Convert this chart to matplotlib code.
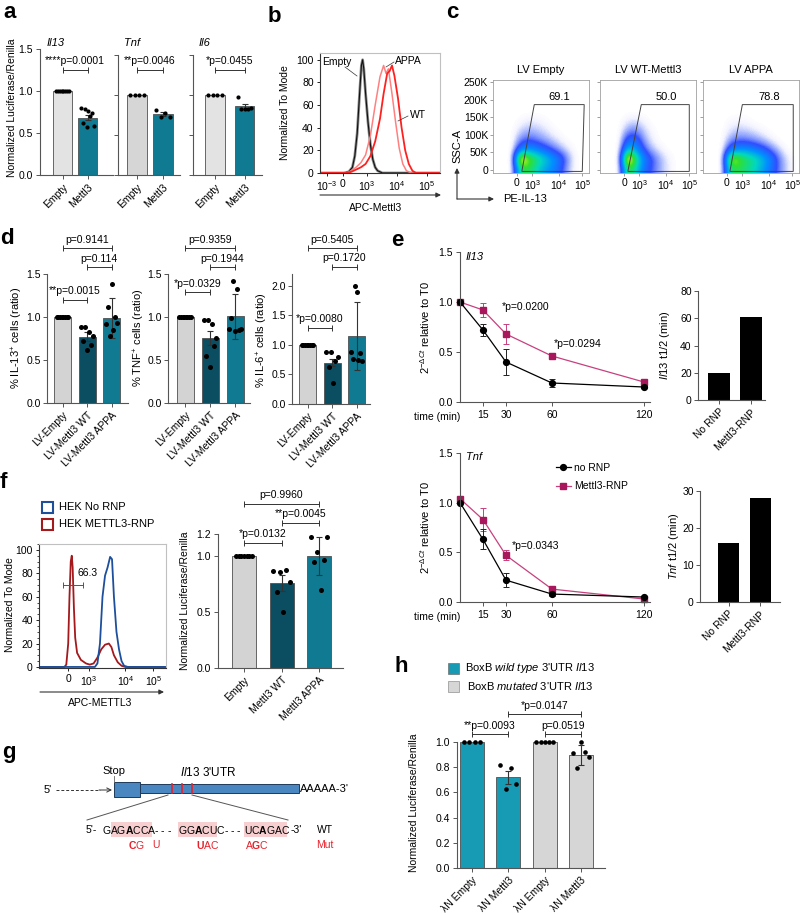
import numpy as np
import matplotlib
matplotlib.use("Agg")
import matplotlib.pyplot as plt
from matplotlib.patches import Rectangle, Polygon
from matplotlib.ticker import FormatStrFormatter, MultipleLocator
from matplotlib.colors import LinearSegmentedColormap

plt.rcParams["font.family"] = ["Liberation Sans", "DejaVu Sans"]
plt.rcParams["font.size"] = 7.5
plt.rcParams["mathtext.fontset"] = "custom"
plt.rcParams["mathtext.rm"] = "Liberation Sans"
plt.rcParams["mathtext.it"] = "Liberation Sans:italic"
plt.rcParams["mathtext.bf"] = "Liberation Sans:bold"
plt.rcParams["mathtext.sf"] = "Liberation Sans"
plt.rcParams["axes.linewidth"] = 0.8

# ---------------- data ----------------
# a: luciferase, Empty vs Mettl3
a_genes = ["Il13", "Tnf", "Il6"]
a_labels = ["Empty", "Mettl3"]
a_means = [[1.0, 0.68], [1.0, 0.76], [1.0, 0.86]]
a_err = [[0, 0.03], [0, 0.025], [0, 0.03]]
a_pts = [
    [[1.0] * 8, [0.80, 0.62, 0.78, 0.57, 0.76, 0.70, 0.74, 0.58]],
    [[1.0] * 4, [0.81, 0.73, 0.78, 0.72]],
    [[1.0] * 4, [0.97, 0.83, 0.82, 0.82, 0.84]],
]
a_pvals = ["****p=0.0001", "**p=0.0046", "*p=0.0455"]

# b: APC-Mettl3 histograms (display scale 0-1, % of mode)
b_tick_pos = [0.06, 0.19, 0.39, 0.64, 0.89]
b_tick_lab = ["$10^{-3}$", "0", "$10^{3}$", "$10^{4}$", "$10^{5}$"]
b_empty_x = [0.0, 0.20, 0.24, 0.27, 0.29, 0.31, 0.33, 0.345, 0.355, 0.365, 0.38, 0.40, 0.42, 0.44, 0.46, 0.48, 0.52, 1.0]
b_empty_y = [0, 0, 1, 5, 15, 35, 70, 95, 100, 92, 70, 45, 25, 12, 5, 2, 0, 0]
b_appa_x = [0.0, 0.22, 0.26, 0.30, 0.34, 0.38, 0.42, 0.46, 0.50, 0.53, 0.55, 0.57, 0.60, 0.63, 0.66, 0.69, 0.72, 0.76, 1.0]
b_appa_y = [0, 0, 2, 5, 9, 16, 33, 60, 85, 95, 88, 92, 70, 45, 22, 8, 2, 0, 0]
b_wt_x = [0.0, 0.22, 0.26, 0.30, 0.34, 0.38, 0.42, 0.46, 0.50, 0.53, 0.56, 0.58, 0.60, 0.62, 0.65, 0.68, 0.71, 0.74, 0.77, 0.80, 1.0]
b_wt_y = [0, 0, 1, 3, 5, 8, 15, 28, 48, 70, 88, 90, 95, 86, 66, 40, 20, 8, 2, 0, 0]

# c: PE-IL-13 vs SSC-A density (rows bottom->top, 12 columns)
c_titles = ["LV Empty", "LV WT-Mettl3", "LV APPA"]
c_pct = ["69.1", "50.0", "78.8"]
c_density = [
    [[0, 0, 0, 5, 5, 4, 3, 2.5, 1.5, 0.4, 0, 0],
     [0, 0, 0, 8.5, 6, 5, 4, 3, 2, 0.6, 0, 0],
     [0, 0, 0, 2.5, 3, 2.5, 1.8, 1.2, 0.6, 0.2, 0, 0],
     [0, 0, 0, 1.0, 1.3, 1.0, 0.7, 0.4, 0.15, 0, 0, 0],
     [0, 0, 0, 0.4, 0.6, 0.5, 0.3, 0.1, 0, 0, 0, 0],
     [0, 0, 0, 0.1, 0.25, 0.2, 0.1, 0, 0, 0, 0, 0],
     [0] * 12, [0] * 12, [0] * 12, [0] * 12],
    [[0, 0, 0, 5.5, 4, 2, 1.2, 0.6, 0.2, 0, 0, 0],
     [0, 0, 0, 9, 5, 2.5, 1.4, 0.6, 0.2, 0, 0, 0],
     [0, 0, 0, 4, 3, 1.3, 0.5, 0.2, 0, 0, 0, 0],
     [0, 0, 0, 2.0, 2.0, 0.7, 0.2, 0, 0, 0, 0, 0],
     [0, 0, 0, 0.8, 1.0, 0.4, 0.1, 0, 0, 0, 0, 0],
     [0, 0, 0, 0.25, 0.35, 0.15, 0, 0, 0, 0, 0, 0],
     [0] * 12, [0] * 12, [0] * 12, [0] * 12],
    [[0, 0, 0, 5, 5, 4.5, 4, 3, 2, 1, 0.3, 0],
     [0, 0, 0, 7, 6, 5, 4.5, 3.5, 2.5, 1, 0.3, 0],
     [0, 0, 0, 2.2, 2.8, 2.8, 2.3, 1.8, 1, 0.4, 0, 0],
     [0, 0, 0, 0.8, 1.1, 1.0, 0.8, 0.5, 0.2, 0, 0, 0],
     [0, 0, 0, 0.3, 0.45, 0.4, 0.25, 0.1, 0, 0, 0, 0],
     [0, 0, 0, 0.1, 0.15, 0.1, 0, 0, 0, 0, 0, 0],
     [0] * 12, [0] * 12, [0] * 12, [0] * 12],
]
c_gates = [
    [(0.30, -4), (0.43, 186), (0.95, 186), (0.93, -4)],
    [(0.29, -4), (0.43, 186), (0.93, 186), (0.93, -4)],
    [(0.28, -4), (0.41, 186), (0.94, 186), (0.94, -4)],
]
c_tick_pos = [0.25, 0.41, 0.69, 0.93]
c_tick_lab = ["0", "$10^{3}$", "$10^{4}$", "$10^{5}$"]
c_yticks = [0, 50, 100, 150, 200, 250]
c_ylab = ["0", "50K", "100K", "150K", "200K", "250K"]

# d: % cytokine+ cells
d_labels = ["LV-Empty", "LV-Mettl3 WT", "LV-Mettl3 APPA"]
d_ylabels = ["% IL-13$^{+}$ cells (ratio)", "% TNF$^{+}$ cells (ratio)", "% IL-6$^{+}$ cells (ratio)"]
d_means = [[1.0, 0.77, 0.99], [1.0, 0.76, 1.01], [1.0, 0.70, 1.15]]
d_err = [[0, 0.05, 0.23], [0, 0.08, 0.26], [0, 0.06, 0.58]]
d_pts = [
    [[1.0] * 8, [0.88, 0.72, 0.88, 0.62, 0.82, 0.68, 0.78], [0.92, 1.12, 0.78, 1.38, 0.85, 1.0, 0.93]],
    [[1.0] * 8, [0.96, 0.55, 0.97, 0.42, 0.92, 0.66, 0.76], [0.86, 0.99, 1.42, 0.84, 1.33, 0.85, 0.86]],
    [[1.0] * 8, [0.88, 0.62, 0.88, 0.35, 0.73, 0.80], [0.88, 0.76, 2.0, 1.9, 0.74, 0.86, 0.72]],
]
d_pvals = [["p=0.9141", "p=0.114", "**p=0.0015"],
           ["p=0.9359", "p=0.1944", "*p=0.0329"],
           ["p=0.5405", "p=0.1720", "*p=0.0080"]]

# e: mRNA decay
e_time = [0, 15, 30, 60, 120]
il13_norn = [1.0, 0.72, 0.40, 0.19, 0.15]
il13_norn_err = [0, 0.06, 0.13, 0.04, 0.01]
il13_rnp = [1.0, 0.92, 0.68, 0.46, 0.20]
il13_rnp_err = [0, 0.07, 0.10, 0.02, 0.02]
tnf_norn = [1.0, 0.63, 0.22, 0.08, 0.05]
tnf_norn_err = [0, 0.10, 0.07, 0.02, 0.01]
tnf_rnp = [1.04, 0.83, 0.47, 0.13, 0.03]
tnf_rnp_err = [0.02, 0.12, 0.05, 0.02, 0.01]
half_labels = ["No RNP", "Mettl3-RNP"]
il13_half = [20, 61]
tnf_half = [16, 28]

# f: HEK flow + luciferase
f_tick_pos = [0.23, 0.39, 0.68, 0.90]
f_tick_lab = ["0", "$10^{3}$", "$10^{4}$", "$10^{5}$"]
f_red_x = [0.0, 0.20, 0.215, 0.23, 0.24, 0.25, 0.258, 0.265, 0.275, 0.285, 0.30, 0.33, 0.37, 0.40, 0.43, 0.46, 0.49, 0.52, 0.55, 0.57, 0.59, 0.62, 0.65, 0.68, 1.0]
f_red_y = [0, 0, 2, 20, 60, 90, 95, 85, 50, 25, 12, 6, 3, 2, 3, 8, 15, 19, 20, 17, 10, 4, 1, 0, 0]
f_blue_x = [0.0, 0.44, 0.46, 0.48, 0.50, 0.52, 0.54, 0.56, 0.575, 0.59, 0.61, 0.63, 0.65, 0.67, 0.70, 1.0]
f_blue_y = [0, 0, 3, 20, 60, 78, 85, 94, 92, 60, 30, 15, 5, 1, 0, 0]
f_labels = ["Empty", "Mettl3 WT", "Mettl3 APPA"]
f_means = [1.0, 0.76, 1.0]
f_err = [0, 0.07, 0.17]
f_pts = [[1.0] * 7, [0.87, 0.68, 0.86, 0.50, 0.88, 0.77], [1.17, 0.95, 1.04, 0.70, 0.97, 1.17]]
f_pvals = ["*p=0.0132", "**p=0.0045", "p=0.9960"]

# h: BoxB tethering
h_labels = ["λN Empty", "λN Mettl3", "λN Empty", "λN Mettl3"]
h_means = [1.0, 0.72, 1.0, 0.90]
h_err = [0, 0.05, 0, 0.08]
h_pts = [[1.0] * 4, [0.82, 0.63, 0.79, 0.67], [1.0] * 5, [0.91, 0.79, 1.0, 0.92, 0.88]]
h_pvals = ["**p=0.0093", "p=0.0519", "*p=0.0147"]

# ---------------- drawing ----------------
W, H = 800, 915
fig = plt.figure(figsize=(W / 100, H / 100), dpi=100)

GRAY = "#e3e3e3"
GRAY2 = "#d3d3d3"
TEAL = "#0f7a91"
DTEAL = "#0b4d61"
LTEAL = "#179ab3"
MAG = "#a8175c"
MAGL = "#c7407e"


def px_ax(l, t, r, b):
    return fig.add_axes([l / W, 1 - b / H, (r - l) / W, (b - t) / H])


def style(ax, color="#555555"):
    for s in ["top", "right"]:
        ax.spines[s].set_visible(False)
    for s in ["left", "bottom"]:
        ax.spines[s].set_color(color)
        ax.spines[s].set_linewidth(0.8)
    ax.tick_params(length=3, width=0.7, color=color, labelsize=7.5, pad=2)


def bar_ax(l, t, r, b, c0, step, ylim):
    ax = px_ax(l, t, r, b)
    ax.set_xlim((l - c0) / step, (r - c0) / step)
    ax.set_ylim(*ylim)
    style(ax)
    return ax


def draw_bars(ax, means, errs, pts, colors, bw, dot=10, spread=0.34):
    x = np.arange(len(means))
    ax.bar(x, means, width=bw, color=colors, edgecolor="#505050", linewidth=0.6, zorder=1)
    for i in range(len(means)):
        if errs[i] > 0:
            ax.errorbar(i, means[i], yerr=errs[i], fmt="none", ecolor="#333333",
                        elinewidth=0.8, capsize=2.2, capthick=0.8, zorder=2)
        off = np.linspace(-spread, spread, len(pts[i])) * bw
        ax.scatter(i + off, pts[i], s=dot, color="black", linewidths=0, zorder=3, clip_on=False)


def bracket(ax, x1, x2, y, label, pad=2.5):
    ax.plot([x1, x2], [y, y], color="#333333", lw=0.7, marker="|", ms=4, mew=0.7, clip_on=False)
    ax.annotate(label, ((x1 + x2) / 2, y), xytext=(0, pad), textcoords="offset points",
                ha="center", va="bottom", fontsize=7.5, annotation_clip=False)


def rot_labels(ax, labels):
    ax.set_xticks(range(len(labels)))
    ax.set_xticklabels(labels, rotation=45, ha="right", rotation_mode="anchor")


# ---- a ----
a_boxes = [(40, 49, 113, 175, 62.5, 25), (118, 55, 180, 175, 137, 26), (193, 55, 262, 175, 215, 29.5)]
a_cols = [[GRAY, TEAL], ["#d6d6d6", TEAL], [GRAY, TEAL]]
for k in range(3):
    l, t, r, b, c0, st = a_boxes[k]
    ax = bar_ax(l, t, r, b, c0, st, (0, 1.5))
    draw_bars(ax, a_means[k], a_err[k], a_pts[k], a_cols[k], 19.5 / st, dot=9)
    ax.set_yticks([0, 0.5, 1.0, 1.5])
    if k == 0:
        ax.yaxis.set_major_formatter(FormatStrFormatter("%.1f"))
    else:
        ax.set_yticklabels([])
    rot_labels(ax, a_labels)
    bracket(ax, 0, 1, 1.25 if k == 0 else 1.31, a_pvals[k], pad=3)

# ---- b ----
axb = px_ax(320, 53, 440, 173)
axb.plot(b_empty_x, b_empty_y, color="#8a8a8a", lw=2.0)
axb.plot(b_empty_x, b_empty_y, color="#111111", lw=0.8)
axb.plot(b_appa_x, b_appa_y, color="#ff8080", lw=1.1)
axb.plot(b_wt_x, b_wt_y, color="#ff2020", lw=1.3)
axb.set_xlim(0, 1)
axb.set_ylim(0, 106)
axb.set_yticks([0, 20, 40, 60, 80, 100])
axb.set_xticks(b_tick_pos)
axb.set_xticklabels(b_tick_lab)
for s in ["top", "right"]:
    axb.spines[s].set_color("#c0c0c0")
for s in ["left", "bottom"]:
    axb.spines[s].set_color("#333333")
axb.tick_params(length=2.5, width=0.6, labelsize=7.5, pad=2)

# ---- c ----
flow_cmap = LinearSegmentedColormap.from_list(
    "flow", [(0, "white"), (0.02, "#f0f2ff"), (0.06, "#a8b8ff"), (0.15, "#3050ff"), (0.3, "#0090ff"),
             (0.45, "#00d8c0"), (0.6, "#30e030"), (0.75, "#e8f020"), (0.88, "#ff8000"), (1.0, "#ff1000")])
c_lefts = [493, 600, 703]
for k in range(3):
    l = c_lefts[k]
    ax = px_ax(l, 80, l + 96, 173)
    ax.imshow(np.array(c_density[k]), origin="lower", extent=(0, 1, -8.5, 256), aspect="auto",
              cmap=flow_cmap, vmin=0, vmax=9, interpolation="bicubic")
    ax.set_xlim(0, 1)
    ax.set_ylim(-8.5, 256)
    ax.add_patch(Polygon(c_gates[k], closed=True, fill=False, edgecolor="#444444", lw=0.7))
    ax.text(0.69, 208, c_pct[k], ha="center", va="center", fontsize=8)
    ax.set_title(c_titles[k], fontsize=8, pad=5)
    for s in ax.spines.values():
        s.set_color("#a0a0a0")
        s.set_linewidth(0.6)
    ax.set_xticks(c_tick_pos)
    ax.set_xticklabels(c_tick_lab)
    ax.set_yticks(c_yticks)
    ax.set_yticklabels(c_ylab if k == 0 else [])
    ax.tick_params(length=2, width=0.5, color="#777777", labelsize=7.5, pad=1.5)

# ---- d ----
d_boxes = [(47, 274, 128, 403, 62.5, 24.5, 1.5), (168, 274, 250, 403, 185, 25, 1.5), (292, 274, 370, 404, 307.5, 24.5, 2.2)]
d_brk = [[1.80, 1.58, 1.20], [1.80, 1.58, 1.29], [2.64, 2.32, 1.29]]
for k in range(3):
    l, t, r, b, c0, st, top = d_boxes[k]
    ax = bar_ax(l, t, r, b, c0, st, (0, top))
    draw_bars(ax, d_means[k], d_err[k], d_pts[k], [GRAY2, DTEAL, TEAL], 17 / st, dot=13)
    ax.set_yticks([0, 0.5, 1.0, 1.5] if k < 2 else [0, 0.5, 1.0, 1.5, 2.0])
    ax.yaxis.set_major_formatter(FormatStrFormatter("%.1f"))
    ax.tick_params(axis="y", pad=1.5)
    rot_labels(ax, d_labels)
    bracket(ax, 0, 2, d_brk[k][0], d_pvals[k][0])
    bracket(ax, 1, 2, d_brk[k][1], d_pvals[k][1])
    bracket(ax, 0, 1, d_brk[k][2], d_pvals[k][2])

# ---- e ----
def decay_ax(t, b, gene, y1, e1, y2, e2):
    ax = px_ax(460, t, 650, b)
    style(ax)
    c2 = ax.errorbar(e_time, y2, yerr=e2, color=MAGL, ecolor=MAGL, marker="s", mfc=MAG, mec=MAG,
                     ms=4.5, lw=0.9, capsize=2, elinewidth=0.7, capthick=0.7)
    c1 = ax.errorbar(e_time, y1, yerr=e1, color="black", ecolor="#222222", marker="o", ms=4.2,
                     lw=0.9, capsize=2, elinewidth=0.7, capthick=0.7)
    for c in (c1, c2):
        for art in c.get_children():
            art.set_clip_on(False)
    ax.set_xlim(0, 124)
    ax.set_ylim(0, 1.5)
    ax.set_xticks([15, 30, 60, 120])
    ax.set_yticks([0, 0.5, 1.0, 1.5])
    ax.yaxis.set_major_formatter(FormatStrFormatter("%.1f"))
    ax.tick_params(axis="x", pad=3)
    ax.text(0.03, 0.97, gene, transform=ax.transAxes, fontstyle="italic", fontsize=8, va="center")
    return ax, c1, c2


axe1, _, _ = decay_ax(252, 402, "Il13", il13_norn, il13_norn_err, il13_rnp, il13_rnp_err)
axe1.text(27, 0.95, "*p=0.0200", va="center", fontsize=7.5)
axe1.text(61, 0.58, "*p=0.0294", va="center", fontsize=7.5)
axe3, h1, h2 = decay_ax(453, 602, "Tnf", tnf_norn, tnf_norn_err, tnf_rnp, tnf_rnp_err)
axe3.text(34, 0.56, "*p=0.0343", va="center", fontsize=7.5)
axe3.legend([h1[0], h2[0]], ["no RNP", "Mettl3-RNP"], loc="upper left",
            bbox_to_anchor=(556 / W, 1 - 463 / H), bbox_transform=fig.transFigure, frameon=False,
            handlelength=1.4, handletextpad=0.3, labelspacing=0.8, borderpad=0, borderaxespad=0,
            fontsize=7.5)

axe2 = bar_ax(698, 291, 765, 400, 719, 32, (0, 80))
axe2.bar([0, 1], il13_half, width=22 / 32, color="black")
axe2.set_yticks([0, 20, 40, 60, 80])
axe2.tick_params(axis="y", pad=1.5)
rot_labels(axe2, half_labels)
axe4 = bar_ax(700, 491, 780, 602, 728.5, 31.5, (0, 30))
axe4.bar([0, 1], tnf_half, width=21 / 31.5, color="black")
axe4.set_yticks([0, 10, 20, 30])
axe4.tick_params(axis="y", pad=1.5)
rot_labels(axe4, half_labels)

# ---- f ----
axf = px_ax(39, 544, 166, 668)
axf.plot(f_red_x, f_red_y, color="#a3191c", lw=1.3)
axf.plot(f_blue_x, f_blue_y, color="#1d4f9c", lw=1.3)
axf.set_xlim(0, 1)
axf.set_ylim(-0.9, 105)
axf.set_yticks([0, 20, 40, 60, 80, 100])
axf.yaxis.set_minor_locator(MultipleLocator(5))
axf.set_xticks(f_tick_pos)
axf.set_xticklabels(f_tick_lab)
for s in ["top", "right"]:
    axf.spines[s].set_color("#c0c0c0")
for s in ["left", "bottom"]:
    axf.spines[s].set_color("#333333")
axf.tick_params(length=2.5, width=0.6, labelsize=7.5, pad=2)
axf.tick_params(which="minor", length=1.5, width=0.5)
axf.plot([0.19, 0.35], [70, 70], color="#555555", lw=0.7, marker="|", ms=4, mew=0.7)
axf.text(0.30, 80, "66.3", fontsize=7.5, va="center")

axf2 = bar_ax(218, 534, 343, 668, 244, 37.5, (0, 1.2))
draw_bars(axf2, f_means, f_err, f_pts, [GRAY2, DTEAL, TEAL], 24 / 37.5, dot=13)
axf2.set_yticks([0, 0.5, 1.0, 1.2])
axf2.yaxis.set_major_formatter(FormatStrFormatter("%.1f"))
rot_labels(axf2, f_labels)
bracket(axf2, 0, 1, 1.12, f_pvals[0])
bracket(axf2, 1, 2, 1.30, f_pvals[1])
bracket(axf2, 0, 2, 1.47, f_pvals[2])

# ---- h ----
axh = bar_ax(457, 742, 605, 868, 472, 36.3, (0, 1.0))
draw_bars(axh, h_means, h_err, h_pts, [LTEAL, LTEAL, "#d6d6d6", "#d6d6d6"], 24 / 36.3, dot=11)
axh.set_yticks([0, 0.2, 0.4, 0.6, 0.8, 1.0])
axh.yaxis.set_major_formatter(FormatStrFormatter("%.1f"))
rot_labels(axh, h_labels)
bracket(axh, 0, 1, 1.06, h_pvals[0])
bracket(axh, 2, 3, 1.06, h_pvals[1])
bracket(axh, 1, 3, 1.22, h_pvals[2])

# ---------------- overlay: letters, labels, schematic ----------------
ov = fig.add_axes([0, 0, 1, 1])
ov.set_xlim(0, W)
ov.set_ylim(H, 0)
ov.axis("off")
ov.set_facecolor("none")

for letter, x, y in [("a", 3, 2), ("b", 268, 6), ("c", 446, 2), ("d", 0, 228), ("e", 391, 230),
                     ("f", 0, 472), ("g", 2, 742), ("h", 394, 656)]:
    ov.text(x, y, letter, fontsize=16, fontweight="bold", va="top", ha="left")

# gene names of panel a
for g, x in zip(a_genes, [47, 124, 199]):
    ov.text(x, 43, g, fontstyle="italic", fontsize=8, ha="left", va="center")

rot = dict(rotation=90, ha="center", va="center", fontsize=7.5)
ov.text(12, 108, "Normalized Luciferase/Renilla", **rot)
ov.text(285, 113, "Normalized To Mode", **rot)
ov.text(17, 338, d_ylabels[0], rotation=90, ha="center", va="center", fontsize=8)
ov.text(139, 338, d_ylabels[1], rotation=90, ha="center", va="center", fontsize=8)
ov.text(262, 340, d_ylabels[2], rotation=90, ha="center", va="center", fontsize=8)
ov.text(425, 327, r"2$^{-\Delta Ct}$ relative to T0", rotation=90, ha="center", va="center", fontsize=8)
ov.text(425, 527, r"2$^{-\Delta Ct}$ relative to T0", rotation=90, ha="center", va="center", fontsize=8)
ov.text(665, 345, r"$\mathit{Il13}$ t1/2 (min)", rotation=90, ha="center", va="center", fontsize=8)
ov.text(674, 546, r"$\mathit{Tnf}$ t1/2 (min)", rotation=90, ha="center", va="center", fontsize=8)
ov.text(10, 605, "Normalized To Mode", **rot)
ov.text(185, 601, "Normalized Luciferase/Renilla", **rot)
ov.text(414, 803, "Normalized Luciferase/Renilla", **rot)

ov.text(437, 417, "time (min)", ha="center", va="center")
ov.text(437, 617, "time (min)", ha="center", va="center")

arrow = dict(arrowstyle="-|>", color="#333333", lw=0.8, mutation_scale=7, shrinkA=0, shrinkB=0)
# b labels
ov.annotate("", xy=(441, 195), xytext=(320, 195), arrowprops=arrow)
ov.text(376, 208, "APC-Mettl3", ha="center", va="center")
ov.text(322, 62, "Empty", ha="left", va="center")
ov.plot([345, 357], [67, 76], color="#333333", lw=0.5)
ov.text(395, 61, "APPA", ha="left", va="center")
ov.plot([394, 386], [62, 67], color="#333333", lw=0.5)
ov.text(410, 115, "WT", ha="left", va="center")
ov.plot([408, 398], [116, 121], color="#333333", lw=0.5)
# c labels
ov.annotate("", xy=(457, 168), xytext=(457, 199), arrowprops=arrow)
ov.annotate("", xy=(494, 199), xytext=(457, 199), arrowprops=arrow)
ov.text(457, 146, "SSC-A", rotation=90, ha="center", va="center", fontsize=8)
ov.text(503, 199, "PE-IL-13", ha="left", va="center", fontsize=8)
# f labels
ov.annotate("", xy=(164, 692), xytext=(40, 692), arrowprops=arrow)
ov.text(100, 703, "APC-METTL3", ha="center", va="center")
ov.add_patch(Rectangle((42, 502), 11, 11, fill=False, edgecolor="#1d4f9c", lw=1.5))
ov.add_patch(Rectangle((42, 519), 11, 11, fill=False, edgecolor="#a3191c", lw=1.5))
ov.text(59, 507, "HEK No RNP", va="center", fontsize=8)
ov.text(59, 524, "HEK METTL3-RNP", va="center", fontsize=8)
# h legend
ov.add_patch(Rectangle((448, 663), 11, 11, facecolor=LTEAL, edgecolor="#707070", lw=0.5))
ov.add_patch(Rectangle((448, 681), 11, 11, facecolor="#d6d6d6", edgecolor="#909090", lw=0.5))
ov.text(465, 668, r"BoxB $\mathit{wild\ type}$ 3'UTR $\mathit{Il13}$", va="center", fontsize=8)
ov.text(467, 686, r"BoxB $\mathit{mutated}$ 3'UTR $\mathit{Il13}$", va="center", fontsize=8)

# g schematic
BLUE = "#4a86c0"
RED = "#e8202a"
ov.text(48, 790, "5'", va="center", ha="center", fontsize=8)
ov.plot([56, 100], [790, 790], color="#333333", lw=0.7, ls=(0, (3, 2)))
ov.annotate("", xy=(112, 790), xytext=(99, 790),
            arrowprops=dict(arrowstyle="->", color="#333333", lw=0.7, shrinkA=0, shrinkB=0))
ov.add_patch(Rectangle((114, 782), 26, 15, facecolor=BLUE, edgecolor="#1e3a5a", lw=0.7))
ov.add_patch(Rectangle((140, 784), 159, 9, facecolor=BLUE, edgecolor="#1e3a5a", lw=0.7))
for xr in (172, 182, 192):
    ov.plot([xr, xr], [784, 793], color=RED, lw=1.2)
ov.text(300, 789, "AAAAA-3'", va="center", ha="left", fontsize=8)
ov.text(114, 771, "Stop", va="center", ha="center", fontsize=8)
ov.plot([114, 114], [776, 782], color="#666666", lw=0.6)
ov.text(208, 773, r"$\mathit{Il13}$ 3'UTR", va="center", ha="center", fontsize=8.5)
ov.plot([168, 87], [795, 820], color="#555555", lw=0.7)
ov.plot([192, 288], [795, 820], color="#555555", lw=0.7)
for x0, x1 in [(111, 152), (178, 217), (244, 287)]:
    ov.add_patch(Rectangle((x0, 822), x1 - x0, 15, facecolor="#f8cfd0", edgecolor="none", zorder=0))
SQ = 7.5
ov.text(86, 830, "5'-", va="center", fontsize=SQ)
ov.text(102, 830, r"GAG$\mathbf{A}$CCA- - -", va="center", fontsize=SQ)
ov.text(178, 830, r"GG$\mathbf{A}$CUC- - -", va="center", fontsize=SQ)
ov.text(244, 830, r"UC$\mathbf{A}$GAC", va="center", fontsize=SQ)
ov.text(291, 830, "-3'", va="center", fontsize=SQ)
ov.text(317, 830, "WT", va="center", fontsize=SQ)
ov.text(128, 845, r"$\mathbf{C}$G", va="center", fontsize=SQ, color=RED)
ov.text(152, 845, "U", va="center", fontsize=SQ, color=RED)
ov.text(196, 845, r"$\mathbf{U}$AC", va="center", fontsize=SQ, color=RED)
ov.text(245, 845, r"A$\mathbf{G}$C", va="center", fontsize=SQ, color=RED)
ov.text(316, 845, "Mut", va="center", fontsize=SQ, color=RED)

fig.savefig("out.png", dpi=100)
